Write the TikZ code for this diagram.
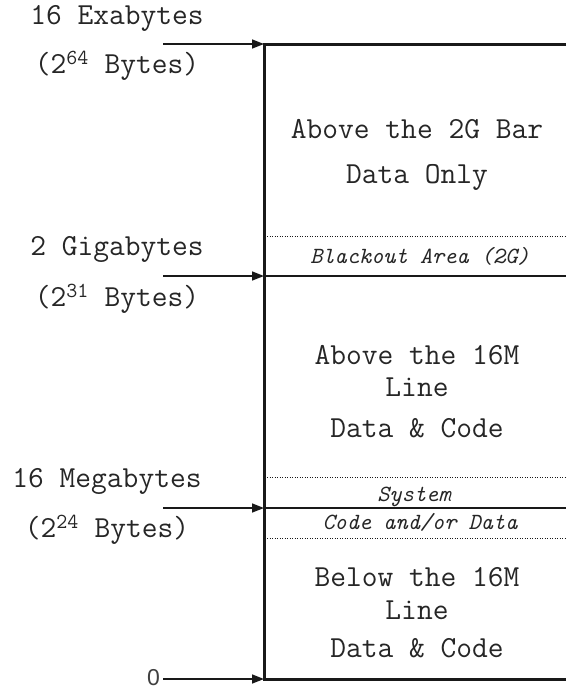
\documentclass[tikz,border=0pt]{standalone}
\usepackage{fontspec}
\newfontfamily\zerofont{Liberation Sans}
\usetikzlibrary{arrows.meta}
\begin{document}
\begin{tikzpicture}[x=1pt,y=-1pt,
  lbl/.style={font=\fontsize{30.6}{35}\selectfont\ttfamily, text=black!85, inner sep=0},
  small/.style={font=\fontsize{23.2}{27}\selectfont\ttfamily\itshape, text=black!85, inner sep=0},
  thickln/.style={line width=3pt, draw=black!90},
  thinln/.style={line width=1.5pt, draw=black!90},
  dotln/.style={line width=1pt, dash pattern=on 1.2pt off 1.3pt, draw=black!90},
  arr/.style={line width=1.5pt, draw=black!90, -{Triangle[length=12pt,width=9pt]}}]
\useasboundingbox (0,0) rectangle (566,691);
% box frame coordinates
\coordinate (tl) at (264,44);
\coordinate (tr) at (566,44);
\coordinate (bl) at (264,679);
\coordinate (br) at (566,679);
\draw[thickln] (tr) -- (tl) -- (bl) -- (br);
% 2G line
\coordinate (gl) at (264,276);
\coordinate (gr) at (566,276);
\draw[thinln] (gl) -- (gr);
% 16M line
\coordinate (ml) at (264,508);
\coordinate (mr) at (566,508);
\draw[thinln] (ml) -- (mr);
% dotted lines
\coordinate (d1l) at (267,236); \coordinate (d1r) at (566,236);
\coordinate (d2l) at (267,477); \coordinate (d2r) at (566,477);
\coordinate (d3l) at (267,538); \coordinate (d3r) at (566,538);
\draw[dotln] (d1l) -- (d1r);
\draw[dotln] (d2l) -- (d2r);
\draw[dotln] (d3l) -- (d3r);
% arrows
\coordinate (ea) at (163,44);
\coordinate (ga) at (163,276);
\coordinate (ma) at (163,508);
\coordinate (za) at (163,679);
\draw[arr] (ea) -- (tl);
\draw[arr] (ga) -- (gl);
\draw[arr] (ma) -- (ml);
\draw[arr] (za) -- (bl);
% left labels
\node[lbl] (ex) at (117,18) {16 Exabytes};
\node[lbl] (exb) at (117,66) {(2\textsuperscript{64} Bytes)};
\node[lbl] (gi) at (117,249) {2 Gigabytes};
\node[lbl] (gib) at (117,299) {(2\textsuperscript{31} Bytes)};
\node[lbl] (me) at (107,481) {16 Megabytes};
\node[lbl] (meb) at (107,530) {(2\textsuperscript{24} Bytes)};
\node[font=\fontsize{23}{28}\selectfont\zerofont, text=black!75, inner sep=0, anchor=east] (zero) at (160,678) {0};
% box texts
\node[lbl] (a1) at (417,129) {Above the 2G Bar};
\node[lbl] (a2) at (417,177) {Data Only};
\node[small] (bo) at (420,256) {Blackout Area (2G)};
\node[lbl] (b1) at (417,355) {Above the 16M};
\node[lbl] (b2) at (417,387) {Line};
\node[lbl] (b3) at (417,428) {Data \& Code};
\node[small] (s1) at (414,497) {System};
\node[small] (s2) at (420,522) {Code and/or Data};
\node[lbl] (c1) at (417,577) {Below the 16M};
\node[lbl] (c2) at (417,610) {Line};
\node[lbl] (c3) at (417,648) {Data \& Code};
\end{tikzpicture}
\end{document}
